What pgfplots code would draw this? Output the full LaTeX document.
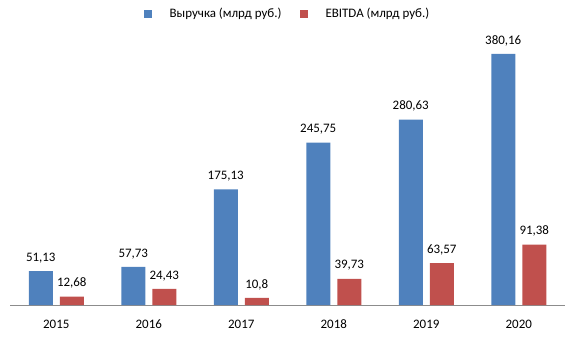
\documentclass[border=0pt]{standalone}
\usepackage{pgfplots}
\pgfplotsset{compat=1.18}
\usepackage{fontspec}
\setmainfont{Carlito}
\definecolor{cblue}{HTML}{4F81BD}
\definecolor{cred}{HTML}{C0504D}
\definecolor{axgray}{HTML}{8C8C8C}
\begin{document}
\begin{tikzpicture}
\path[use as bounding box] (0,0) rectangle (575bp,346bp);
\begin{axis}[
  at={(10bp,41bp)}, anchor=south west,
  scale only axis, width=555bp, height=275bp,
  xmin=-0.5, xmax=5.5, ymin=0, ymax=416.5,
  hide y axis,
  axis x line=bottom,
  axis line style={axgray, -},
  x axis line style={-},
  xtick=data,
  xticklabels={2015,2016,2017,2018,2019,2020},
  xtick style={draw=none},
  xticklabel style={font=\fontsize{13}{15}\selectfont, yshift=-7bp},
  ybar, bar width=24bp,
  clip=false,
  /pgf/number format/assume math mode=true,
  nodes near coords,
  nodes near coords style={font=\fontsize{13}{15}\selectfont, black, anchor=south, inner sep=0pt, yshift=8bp,
    /pgf/number format/.cd, use comma, fixed, precision=2, 1000 sep={}},
  legend columns=2,
  legend style={at={(0.5,1)}, anchor=center, yshift=16bp, draw=none, fill=none,
    font=\fontsize{13}{15}\selectfont, column sep=16bp},
  legend image code/.code={\fill[#1] (0bp,-4bp) rectangle (8bp,4bp);},
]
\addplot[fill=cblue, draw=none, bar shift=-15.5bp] coordinates {(0,51.13) (1,57.73) (2,175.13) (3,245.75) (4,280.63) (5,380.16)};
\addplot[fill=cred, draw=none, bar shift=15.5bp] coordinates {(0,12.68) (1,24.43) (2,10.8) (3,39.73) (4,63.57) (5,91.38)};
\legend{Выручка (млрд руб.), EBITDA\ (млрд руб.)}
\end{axis}
\end{tikzpicture}
\end{document}
